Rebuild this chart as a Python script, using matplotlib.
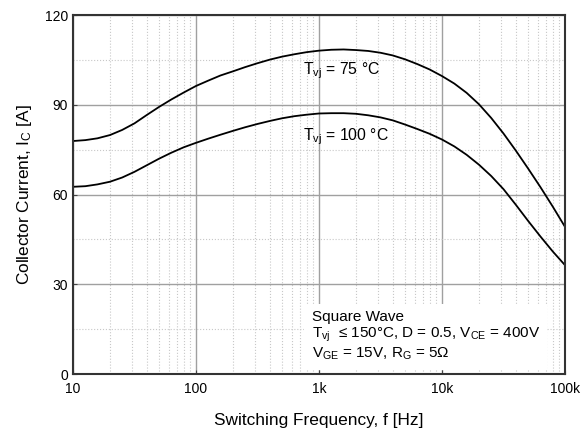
import matplotlib
matplotlib.use("Agg")
import matplotlib.pyplot as plt

plt.rcParams['font.family'] = ['Liberation Sans', 'DejaVu Sans']
plt.rcParams['mathtext.fontset'] = 'custom'
plt.rcParams['mathtext.rm'] = 'Liberation Sans'
plt.rcParams['mathtext.it'] = 'Liberation Sans'

# switching frequency [Hz], about 10 points per decade
freq = [10, 12.6, 15.8, 20, 25.1, 31.6, 39.8, 50.1, 63.1, 79.4,
        100, 126, 158, 200, 251, 316, 398, 501, 631, 794,
        1000, 1259, 1585, 1995, 2512, 3162, 3981, 5012, 6310, 7943,
        10000, 12589, 15849, 19953, 25119, 31623, 39811, 50119, 63096, 79433,
        100000]
# collector current [A], Tvj = 75 C
ic_75 = [77.9, 78.2, 78.8, 79.9, 81.6, 83.8, 86.6, 89.3, 91.8, 94.1,
         96.3, 98.1, 99.8, 101.2, 102.6, 103.9, 105.1, 106.1, 106.9, 107.6,
         108.1, 108.4, 108.5, 108.3, 108.0, 107.4, 106.5, 105.2, 103.6, 101.8,
         99.6, 97.1, 94.0, 90.2, 85.6, 80.4, 74.7, 68.7, 62.5, 56.0,
         49.2]
# collector current [A], Tvj = 100 C
ic_100 = [62.6, 62.8, 63.4, 64.3, 65.7, 67.6, 69.8, 72.0, 74.0, 75.8,
          77.3, 78.7, 80.0, 81.3, 82.5, 83.6, 84.6, 85.5, 86.2, 86.7,
          87.1, 87.2, 87.2, 87.0, 86.5, 85.8, 84.8, 83.4, 81.9, 80.3,
          78.4, 76.1, 73.3, 70.0, 66.2, 61.8, 56.6, 51.2, 46.0, 41.0,
          36.4]

xticks = [10, 100, 1e3, 1e4, 1e5]
xticklabels = ['10', '100', '1k', '10k', '100k']
yticks = [0, 30, 60, 90, 120]
yminor = [15, 45, 75, 105]

fig = plt.figure(figsize=(5.84, 4.3), dpi=100)
ax = fig.add_axes([0.125, 0.130, 0.8425, 0.835])

ax.set_xscale('log')
ax.set_xlim(10, 1e5)
ax.set_ylim(0, 120)

ax.plot(freq, ic_75, color='black', lw=1.3)
ax.plot(freq, ic_100, color='black', lw=1.3)

ax.set_xticks(xticks)
ax.set_xticklabels(xticklabels)
ax.set_yticks(yticks)
ax.set_yticks(yminor, minor=True)
ax.tick_params(which='both', direction='in', length=3, labelsize=10, color='#444444')
ax.tick_params(which='minor', length=0)
ax.tick_params(axis='x', pad=6)

ax.grid(which='major', color='#a0a0a0', lw=1.0, ls='-')
ax.grid(which='minor', color='#c8c8c8', lw=0.8, ls=':')
ax.set_axisbelow(True)

for s in ax.spines.values():
    s.set_color('#333333')
    s.set_linewidth(1.5)

ax.set_xlabel('Switching Frequency, f [Hz]', fontsize=12.4, labelpad=12)
ax.set_ylabel(r'Collector Current, I$_{\rm C}$ [A]', fontsize=12.4, labelpad=8)

ax.text(742, 101.3, r'T$_{\rm vj}$ = 75 °C', fontsize=11.3, va='center', ha='left')
ax.text(742, 79.2, r'T$_{\rm vj}$ = 100 °C', fontsize=11.3, va='center', ha='left')

ax.text(871, 4.0,
        'Square Wave\n'
        r'T$_{\rm vj}$  ≤ 150°C, D = 0.5, V$_{\rm CE}$ = 400V' '\n'
        r'V$_{\rm GE}$ = 15V, R$_{\rm G}$ = 5Ω',
        fontsize=11, va='bottom', ha='left', linespacing=1.15,
        bbox=dict(facecolor='white', edgecolor='none', pad=5.5))

fig.savefig('out.png', dpi=100)
